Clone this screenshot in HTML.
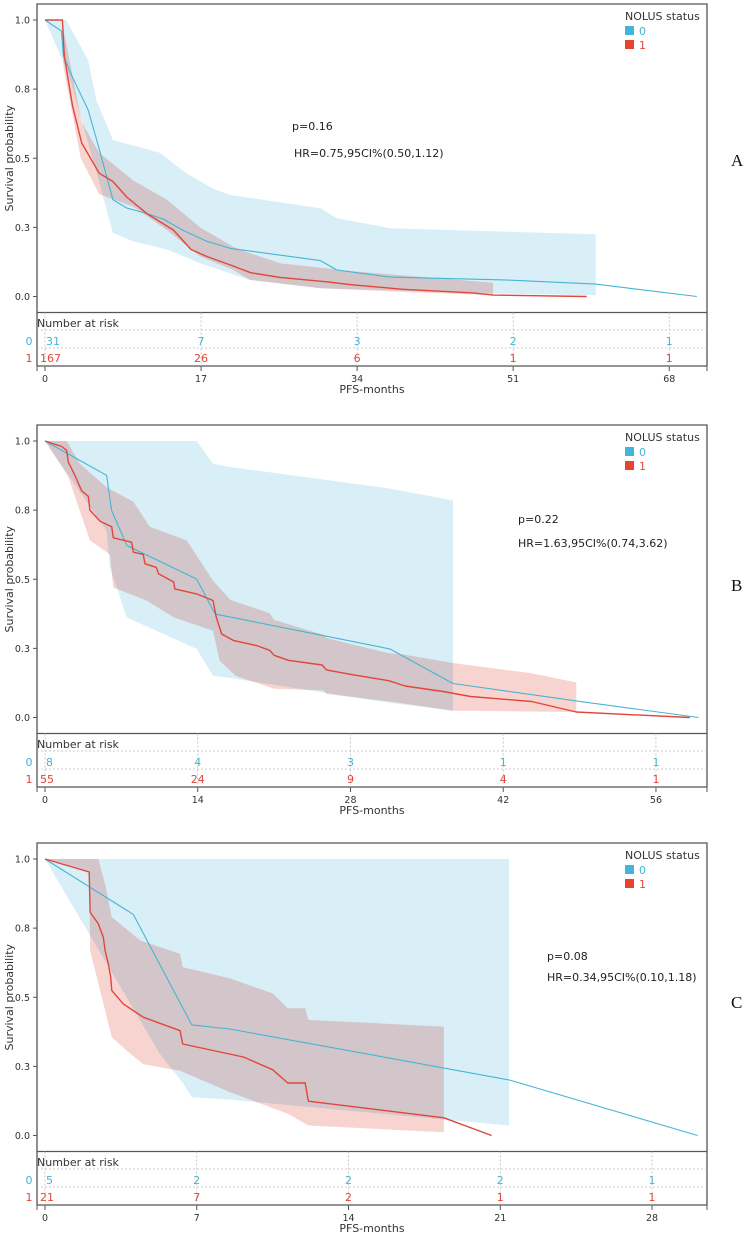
<!DOCTYPE html>
<html><head><meta charset="utf-8">
<style>
html,body{margin:0;padding:0;background:#fff;}
svg{display:block;font-family:"DejaVu Sans","Liberation Sans",sans-serif;}
.mul{mix-blend-mode:multiply;}
</style></head>
<body>
<svg id="fig" width="750" height="1237" viewBox="0 0 750 1237" xmlns="http://www.w3.org/2000/svg"></svg>
<script>
// ---------- DATA (time in months, survival probability) ----------
const yTickValues = [0, 0.25, 0.5, 0.75, 1.0];
const yTickLabels = ["0.0", "0.3", "0.5", "0.8", "1.0"];
const groupLabels = ["0", "1"];

// Panel A
const aTicks = [0, 17, 34, 51, 68];
const aRisk0 = [31, 7, 3, 2, 1];
const aRisk1 = [167, 26, 6, 1, 1];
const aCurve0 = [[0,1],[1.8,.96],[2.0,.87],[2.9,.80],[4.7,.675],[5.6,.57],[6.5,.46],[7.4,.35],[8.9,.32],[11.1,.30],[12.9,.28],[15,.24],[17.6,.20],[20.2,.174],[30,.13],[31.8,.096],[37.6,.07],[50,.06],[60,.045],[71,0]];
const aUpper0 = [[0,1],[2.3,1],[4.7,.855],[5.6,.71],[7.4,.566],[12.5,.52],[15.4,.446],[18.3,.39],[20.2,.367],[30,.319],[31.8,.283],[37.6,.247],[52.8,.232],[60,.225]];
const aLower0 = [[0,1],[2.6,.8],[5.6,.45],[7.4,.23],[9.6,.2],[13.3,.17],[16.9,.12],[22.3,.06],[30,.03],[50,.01],[60,.005]];
const aCurve1 = [[0,1],[1.9,1],[2.1,.87],[3.0,.69],[4.0,.555],[5.9,.446],[7.4,.416],[8.9,.36],[11.1,.30],[12.2,.277],[14,.24],[15.9,.17],[17.6,.145],[20.2,.114],[22.4,.086],[25.6,.069],[30.7,.053],[33.2,.043],[39,.026],[46.6,.013],[48.8,.005],[59,0]];
const aUpper1 = [[0,1],[1.9,1],[2.1,.95],[4.0,.63],[5.9,.52],[9.6,.42],[13.3,.35],[16.9,.25],[20.5,.18],[22.3,.157],[25.6,.12],[34,.09],[45,.06],[48.8,.05]];
const aLower1 = [[0,1],[1.9,1],[2.0,.83],[3.9,.5],[5.9,.37],[9.6,.325],[13.3,.24],[16.9,.145],[20.5,.096],[22.3,.06],[30,.03],[40,.015],[48.8,.005]];

// Panel B
const bTicks = [0, 14, 28, 42, 56];
const bRisk0 = [8, 4, 3, 1, 1];
const bRisk1 = [55, 24, 9, 4, 1];
const bCurve0 = [[0,1],[5.65,.876],[6.1,.749],[7.5,.622],[13.9,.501],[15.6,.374],[17,.363],[31.6,.248],[37.4,.123],[48.7,.06],[59.9,0]];
const bUpper0 = [[0,1],[13.9,1],[15.4,.918],[17,.906],[31.6,.828],[37.4,.785]];
const bLower0 = [[0,1],[5.65,.676],[5.95,.543],[7.5,.362],[13.9,.248],[15.4,.151],[17,.143],[31.6,.053],[37.4,.024]];
const bCurve1 = [[0,1],[1.53,.98],[1.99,.966],[2.14,.924],[2.75,.875],[3.36,.82],[3.97,.80],[4.12,.75],[5.04,.71],[6.11,.69],[6.26,.65],[7.94,.634],[8.1,.598],[9.0,.59],[9.17,.556],[10.2,.543],[10.4,.52],[11.8,.49],[11.9,.465],[13.9,.447],[15.4,.423],[15.7,.362],[16.2,.302],[17.3,.278],[19.4,.26],[20.6,.243],[21,.225],[22.3,.207],[25.4,.19],[25.8,.172],[28.3,.154],[31.5,.133],[33,.114],[36.5,.094],[39,.076],[44.6,.058],[48.7,.02],[59.1,0]];
const bUpper1 = [[0,1],[1.99,1],[3.2,.918],[5.65,.833],[8.1,.78],[9.6,.69],[13,.64],[15.4,.495],[17,.425],[20.6,.377],[21,.353],[25.5,.299],[25.8,.287],[31.5,.233],[33,.227],[37.4,.197],[44.6,.16],[48.7,.127]];
const bLower1 = [[0,1],[2.14,.87],[4.12,.64],[5.95,.59],[6.26,.47],[9.3,.423],[11.8,.362],[15.4,.314],[16,.205],[17.5,.15],[21,.104],[25.5,.098],[25.8,.085],[31.9,.056],[37.4,.025],[48.7,.02]];

// Panel C
const cTicks = [0, 7, 14, 21, 28];
const cRisk0 = [5, 2, 2, 2, 1];
const cRisk1 = [21, 7, 2, 1, 1];
const cCurve0 = [[0,1],[4.07,.80],[6.77,.40],[8.53,.385],[21.4,.201],[30.1,0]];
const cUpper0 = [[0,1],[21.4,1]];
const cLower0 = [[0,1],[5.3,.295],[6.38,.187],[6.77,.139],[8.53,.13],[21.4,.036]];
const cCurve1 = [[0,1],[2.04,.953],[2.08,.808],[2.46,.766],[2.69,.717],[2.77,.669],[2.92,.621],[3.03,.573],[3.08,.524],[3.61,.476],[4.53,.428],[6.23,.379],[6.35,.331],[9.15,.284],[10.5,.238],[11.2,.19],[12,.19],[12.15,.124],[18.4,.064],[20.6,0]];
const cUpper1 = [[0,1],[2.46,1],[2.8,.90],[3.08,.79],[4.4,.705],[6.23,.657],[6.35,.609],[8.53,.568],[10.5,.514],[11.2,.46],[12,.46],[12.15,.418],[18.4,.394]];
const cLower1 = [[0,1],[2.04,.95],[2.08,.669],[3.08,.355],[3.77,.307],[4.53,.258],[6.23,.234],[8.53,.157],[11.2,.079],[12.15,.036],[18.4,.012]];

const pTexts = ["p=0.16", "p=0.22", "p=0.08"];
const hrTexts = ["HR=0.75,95CI%(0.50,1.12)", "HR=1.63,95CI%(0.74,3.62)", "HR=0.34,95CI%(0.10,1.18)"];
const panelLetters = ["A", "B", "C"];

// ---------- LAYOUT ----------
const NS = "http://www.w3.org/2000/svg";
const svg = document.getElementById("fig");
const COL0 = "#45b5d3", COL1 = "#e2463a";

function mk(tag, attrs, parent) {
  const e = document.createElementNS(NS, tag);
  for (const k in attrs) e.setAttribute(k, attrs[k]);
  (parent || svg).appendChild(e);
  return e;
}
function txt(x, y, s, attrs, parent) {
  const t = mk("text", Object.assign({x: x, y: y}, attrs), parent);
  t.textContent = s;
  return t;
}

const panels = [
  {off: 0,   ppm: 9.18,  ticks: aTicks, r0: aRisk0, r1: aRisk1, c0: aCurve0, u0: aUpper0, l0: aLower0, c1: aCurve1, u1: aUpper1, l1: aLower1, px: 292, py: 130, hx: 294, hy: 157, ly: 166},
  {off: 421, ppm: 10.91, ticks: bTicks, r0: bRisk0, r1: bRisk1, c0: bCurve0, u0: bUpper0, l0: bLower0, c1: bCurve1, u1: bUpper1, l1: bLower1, px: 518, py: 523, hx: 518, hy: 547, ly: 591},
  {off: 839, ppm: 21.68, ticks: cTicks, r0: cRisk0, r1: cRisk1, c0: cCurve0, u0: cUpper0, l0: cLower0, c1: cCurve1, u1: cUpper1, l1: cLower1, px: 547, py: 960, hx: 547, hy: 981, ly: 1008}
];

panels.forEach(function(p, i) {
  const g = mk("g", {});
  
  
  const o = p.off;
  const L = 37, R = 707, top = 4 + o, y1 = 20 + o, y0 = 296.5 + o, bot = 312.5 + o, axisY = 366 + o;
  const xs = function(t) { return 45 + t * p.ppm; };
  const ys = function(s) { return y0 - s * (y0 - y1); };

  const cid = "clip" + i;
  const cp = mk("clipPath", {id: cid}, g);
  mk("rect", {x: L, y: top, width: R - L, height: bot - top}, cp);

  function band(up, lo, fill, name, cls) {
    const pts = up.map(function(d){ return xs(d[0]).toFixed(1) + "," + ys(d[1]).toFixed(1); })
      .concat(lo.slice().reverse().map(function(d){ return xs(d[0]).toFixed(1) + "," + ys(d[1]).toFixed(1); }));
    const e = mk("polygon", {points: pts.join(" "), fill: fill, "clip-path": "url(#" + cid + ")"}, g);
    if (cls) e.setAttribute("class", cls);
    
    
  }
  function line(c, col, w, name) {
    const pts = c.map(function(d){ return xs(d[0]).toFixed(1) + "," + ys(d[1]).toFixed(1); });
    const e = mk("polyline", {points: pts.join(" "), fill: "none", stroke: col, "stroke-width": w, "stroke-linejoin": "round"}, g);
    
    
  }
  band(p.u0, p.l0, "#d8eff8", 'ci-band-group-0', null);
  band(p.u1, p.l1, "#f8d4d0", 'ci-band-group-1', "mul");
  line(p.c0, COL0, 1.1, 'survival-curve-group-0');
  line(p.c1, COL1, 1.4, 'survival-curve-group-1');

  const fr = mk("path", {d: "M" + L + "," + bot + " V" + top + " H" + R + " V" + axisY, fill: "none", stroke: "#555", "stroke-width": 1.3}, g);
  
  
  mk("line", {x1: L, y1: bot, x2: R, y2: bot, stroke: "#555", "stroke-width": 1.3}, g);
  mk("line", {x1: L, y1: bot, x2: L, y2: axisY, stroke: "#555", "stroke-width": 1.3}, g);
  mk("line", {x1: L, y1: axisY, x2: R, y2: axisY, stroke: "#555", "stroke-width": 1.3}, g);
  mk("line", {x1: R, y1: axisY, x2: R, y2: axisY + 5, stroke: "#555", "stroke-width": 1}, g);
  mk("line", {x1: L, y1: axisY, x2: L, y2: axisY + 5, stroke: "#555", "stroke-width": 1}, g);

  yTickValues.forEach(function(v, k) {
    mk("line", {x1: L - 4, y1: ys(v), x2: L, y2: ys(v), stroke: "#555", "stroke-width": 1}, g);
    const t = txt(30, ys(v) + 3.5, yTickLabels[k], {"font-size": 9.5, fill: "#333", "text-anchor": "end"}, g);
    
    
  });
  const yt = txt(0, 0, "Survival probability", {"font-size": 11, fill: "#333", "text-anchor": "middle", transform: "translate(13," + (ys(0.5)) + ") rotate(-90)"}, g);
  
  

  mk("line", {x1: L, y1: 330 + o, x2: R, y2: 330 + o, stroke: "#bbb", "stroke-width": 0.8, "stroke-dasharray": "2,2"}, g);
  mk("line", {x1: L, y1: 348 + o, x2: R, y2: 348 + o, stroke: "#bbb", "stroke-width": 0.8, "stroke-dasharray": "2,2"}, g);
  const nr = txt(37, 327 + o, "Number at risk", {"font-size": 11, fill: "#333"}, g);
  
  
  txt(29, 345 + o, groupLabels[0], {"font-size": 11, fill: COL0, "text-anchor": "middle"}, g);
  txt(29, 362 + o, groupLabels[1], {"font-size": 11, fill: COL1, "text-anchor": "middle"}, g);
  p.ticks.forEach(function(t, k) {
    const x = xs(t);
    mk("line", {x1: x, y1: bot, x2: x, y2: axisY, stroke: "#bbb", "stroke-width": 0.8, "stroke-dasharray": "2,2"}, g);
    mk("line", {x1: x, y1: axisY, x2: x, y2: axisY + 5, stroke: "#555", "stroke-width": 1}, g);
    const a = txt(k === 0 ? x + 1 : x, 345 + o, String(p.r0[k]), {"font-size": 11, fill: COL0, "text-anchor": k === 0 ? "start" : "middle"}, g);
    
    
    const b = txt(k === 0 ? x - 5 : x, 362 + o, String(p.r1[k]), {"font-size": 11, fill: COL1, "text-anchor": k === 0 ? "start" : "middle"}, g);
    
    
    const tl = txt(x, 382 + o, String(t), {"font-size": 9.5, fill: "#333", "text-anchor": "middle"}, g);
    
    
  });
  const xl = txt(372, 393 + o, "PFS-months", {"font-size": 11, fill: "#333", "text-anchor": "middle"}, g);
  
  

  const lg = mk("g", {}, g);
  
  
  txt(625, 20 + o, "NOLUS status", {"font-size": 11, fill: "#333"}, lg);
  mk("rect", {x: 625, y: 26 + o, width: 9, height: 9, fill: "#41b6d6"}, lg);
  txt(639, 35 + o, "0", {"font-size": 11, fill: COL0}, lg);
  mk("rect", {x: 625, y: 40 + o, width: 9, height: 9, fill: "#e8432f"}, lg);
  txt(639, 49 + o, "1", {"font-size": 11, fill: COL1}, lg);

  const pt = txt(p.px, p.py, pTexts[i], {"font-size": 11, fill: "#222"}, g);
  
  
  const ht = txt(p.hx, p.hy, hrTexts[i], {"font-size": 11, fill: "#222"}, g);
  
  
  const pl = txt(731, p.ly, panelLetters[i], {"font-size": 17, fill: "#111", "font-family": "Liberation Serif, serif"}, g);
  
  
});
</script>
</body></html>
